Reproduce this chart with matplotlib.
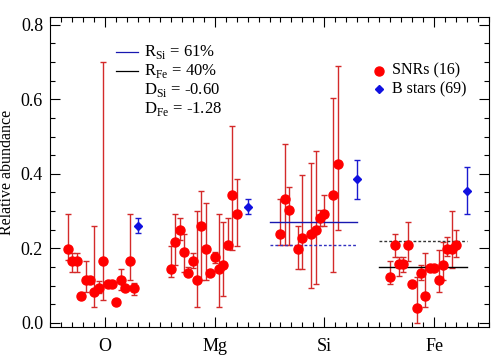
import numpy as np
import matplotlib
matplotlib.use("Agg")
import matplotlib.pyplot as plt
from matplotlib.ticker import MultipleLocator

plt.rcParams['font.family'] = 'Liberation Serif'
plt.rcParams['mathtext.fontset'] = 'custom'
plt.rcParams['mathtext.rm'] = 'Liberation Serif'

nan = np.nan
elements = ['O', 'Mg', 'Si', 'Fe']

# SNR abundances (16 remnants per element, nan = no measurement)
snr_O = [0.198, 0.167, 0.167, 0.073, 0.115, 0.115, 0.082, 0.093, 0.167, 0.104, 0.104, 0.055, 0.115, 0.095, 0.167, 0.095]
snr_O_hi = [0.293, 0.187, 0.187, 0.080, 0.165, 0.122, 0.260, 0.113, 0.700, 0.110, 0.110, 0.060, 0.144, 0.100, 0.293, 0.106]
snr_O_lo = [0.169, 0.138, 0.138, 0.066, 0.082, 0.108, 0.044, 0.080, 0.062, 0.098, 0.098, 0.050, 0.089, 0.090, 0.115, 0.075]

snr_Mg = [0.146, 0.218, 0.250, 0.189, 0.135, 0.167, 0.115, 0.260, 0.198, 0.135, 0.178, 0.146, 0.156, 0.208, 0.344, 0.292]
snr_Mg_hi = [0.207, 0.292, 0.281, 0.238, 0.151, 0.187, 0.301, 0.354, 0.323, 0.140, 0.190, 0.292, 0.272, 0.281, 0.529, 0.386]
snr_Mg_lo = [0.124, 0.156, 0.223, 0.138, 0.130, 0.147, 0.044, 0.115, 0.115, 0.130, 0.160, 0.044, 0.072, 0.198, 0.196, 0.207]

snr_Si = [0.239, 0.333, 0.302, nan, 0.198, 0.229, nan, 0.239, 0.250, 0.281, 0.292, nan, 0.344, 0.427, nan, nan]
snr_Si_hi = [0.333, 0.481, 0.364, nan, 0.259, 0.396, nan, 0.429, 0.460, 0.303, 0.344, nan, 0.603, 0.688, nan, nan]
snr_Si_lo = [0.208, 0.208, 0.208, nan, 0.144, 0.144, nan, 0.093, 0.105, 0.260, 0.260, nan, 0.136, 0.250, nan, nan]

snr_Fe = [0.124, 0.208, 0.157, 0.157, 0.208, 0.104, 0.041, 0.135, 0.073, 0.147, 0.147, 0.115, 0.156, 0.198, 0.198, 0.208]
snr_Fe_hi = [0.166, 0.239, 0.176, 0.176, 0.272, 0.110, 0.124, 0.156, 0.187, 0.152, 0.152, 0.196, 0.218, 0.230, 0.301, 0.250]
snr_Fe_lo = [0.105, 0.176, 0.126, 0.138, 0.165, 0.098, 0.001, 0.115, 0.044, 0.142, 0.142, 0.084, 0.115, 0.180, 0.147, 0.176]

# B star averages
bstar = [0.260, 0.312, 0.386, 0.354]
bstar_hi = [0.281, 0.333, 0.438, 0.417]
bstar_lo = [0.241, 0.292, 0.333, 0.293]

# reference levels
si_solid, si_dash = 0.27, 0.21
fe_solid, fe_dash = 0.15, 0.22

snr_vals = [snr_O, snr_Mg, snr_Si, snr_Fe]
snr_his = [snr_O_hi, snr_Mg_hi, snr_Si_hi, snr_Fe_hi]
snr_los = [snr_O_lo, snr_Mg_lo, snr_Si_lo, snr_Fe_lo]
start = [-0.335, -0.4, -0.4, -0.4]

fig = plt.figure(figsize=(5.0, 3.59), dpi=100)
ax = fig.add_axes([0.1, 0.089, 0.878, 0.864])

for k in range(4):
    v = np.array(snr_vals[k])
    hi = np.array(snr_his[k])
    lo = np.array(snr_los[k])
    x = (k + 1) + start[k] + 0.04 * np.arange(len(v))
    ok = ~np.isnan(v)
    ax.errorbar(x[ok], v[ok], yerr=[v[ok] - lo[ok], hi[ok] - v[ok]], fmt='none',
                ecolor='#d42a2a', elinewidth=1.0, capsize=2.3, capthick=1.0, zorder=2)
    ax.plot(x[ok], v[ok], 'o', color='#ff0000', ms=6.5, mec='#ff0000', zorder=3)
    xb = (k + 1) + 0.3
    ax.errorbar([xb], [bstar[k]], yerr=[[bstar[k] - bstar_lo[k]], [bstar_hi[k] - bstar[k]]],
                fmt='D', color='#1010e0', ms=4.5, ecolor='#1a1ad0', elinewidth=1.0,
                capsize=2.3, capthick=1.0, zorder=3)

ax.plot([2.5, 3.3], [si_solid, si_solid], color='#1818b0', lw=1.0)
ax.plot([2.5, 3.3], [si_dash, si_dash], color='#3030c0', lw=1.0, ls=(0, (2, 1.5)))
ax.plot([3.5, 4.3], [fe_solid, fe_solid], color='black', lw=1.0)
ax.plot([3.5, 4.3], [fe_dash, fe_dash], color='#333333', lw=1.0, ls=(0, (2, 1.5)))

ax.set_xlim(0.5, 4.5)
ax.set_ylim(-0.011, 0.821)
ax.set_xticks([1, 2, 3, 4])
ax.set_xticklabels(elements)
ax.xaxis.set_minor_locator(MultipleLocator(0.1))
ax.set_yticks([0.0, 0.2, 0.4, 0.6, 0.8])
ax.yaxis.set_minor_locator(MultipleLocator(0.05))
ax.tick_params(which='both', direction='in', top=True, right=True, labelsize=13)
ax.tick_params(which='major', length=7, width=0.8)
ax.tick_params(which='minor', length=3.5, width=0.8)
ax.tick_params(axis='x', pad=8)
ax.tick_params(axis='y', pad=5)
ax.set_ylabel('Relative abundance', fontsize=11.5, labelpad=4)

# text legend, top left
tr = ax.transAxes
ax.plot([0.15, 0.2], [0.887, 0.887], color='#1818b0', lw=0.9, transform=tr)
ax.plot([0.15, 0.2], [0.826, 0.826], color='black', lw=0.9, transform=tr)
rows = [r'R$_{\rm Si}$ = 61%', r'R$_{\rm Fe}$ = 40%', r'D$_{\rm Si}$ = -0.60', r'D$_{\rm Fe}$ = -1.28']
for i, s in enumerate(rows):
    ax.text(0.214, 0.887 - 0.061 * i, s, transform=tr, fontsize=12, va='center')

# symbol legend, top right
ax.plot([0.75], [0.826], 'o', color='#ff0000', ms=6.5, transform=tr)
ax.plot([0.75], [0.767], 'D', color='#1010e0', ms=4.5, transform=tr)
ax.text(0.778, 0.826, 'SNRs (16)', transform=tr, fontsize=11.5, va='center')
ax.text(0.778, 0.767, 'B stars (69)', transform=tr, fontsize=11.5, va='center')

fig.savefig('out.png', dpi=100)
